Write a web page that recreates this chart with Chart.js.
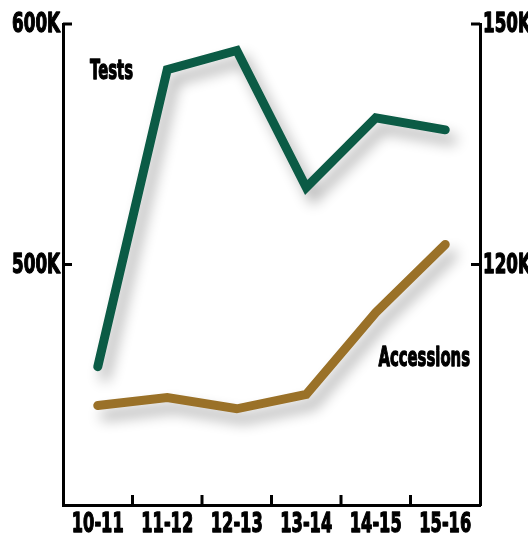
<!DOCTYPE html>
<html>
<head>
<meta charset="utf-8">
<script src="https://cdn.jsdelivr.net/npm/chart.js@4"></script>
<style>
  html, body { margin: 0; padding: 0; background: #fff; }
  #wrap { width: 528px; height: 536px; }
</style>
</head>
<body>
<div id="wrap"><canvas id="chart"></canvas></div>
<script>
const years = ['10-11', '11-12', '12-13', '13-14', '14-15', '15-16'];
const tests = [457500, 581000, 589000, 532000, 561000, 556000];
const accessions = [102400, 103400, 102000, 103800, 114000, 122500];
const leftTicks = [500000, 600000];
const rightTicks = [120000, 150000];

const FONT = 'bold 27px "DejaVu Sans", sans-serif';
const green = '#0b5b45';
const brown = '#9a7128';

const fmtK = v => (v / 1000) + 'K';

// narrow heavy text (squeezed horizontally, thickened with a stroke)
function squeezed(c, text, x, y, align, sx) {
  c.save();
  c.font = FONT;
  c.textBaseline = 'middle';
  c.textAlign = align;
  c.translate(x, y);
  c.scale(sx, 1);
  c.fillStyle = '#000';
  c.strokeStyle = '#000';
  c.lineWidth = 1.4;
  c.lineJoin = 'round';
  c.fillText(text, 0, 0);
  c.strokeText(text, 0, 0);
  c.restore();
}

// drop shadow under the lines
const shadowPlugin = {
  id: 'shadow',
  beforeDatasetsDraw(chart) {
    const c = chart.ctx;
    c.save();
    c.shadowColor = 'rgba(0,0,0,0.32)';
    c.shadowBlur = 14;
    c.shadowOffsetX = 7;
    c.shadowOffsetY = 10;
  },
  afterDatasetsDraw(chart) {
    chart.ctx.restore();
  }
};

// inward tick marks, tick labels, series labels
const decorPlugin = {
  id: 'decor',
  afterDraw(chart) {
    const c = chart.ctx;
    const { left, right, bottom } = chart.chartArea;
    const x = chart.scales.x, yl = chart.scales.yl, yr = chart.scales.yr;
    c.save();
    c.strokeStyle = '#000';
    c.lineWidth = 3;
    c.beginPath();
    leftTicks.forEach(v => {
      const p = yl.getPixelForValue(v);
      c.moveTo(left, p); c.lineTo(left + 9, p);
    });
    rightTicks.forEach(v => {
      const p = yr.getPixelForValue(v);
      c.moveTo(right, p); c.lineTo(right - 9, p);
    });
    for (let i = 1; i < years.length; i++) {
      const p = (x.getPixelForValue(i - 1) + x.getPixelForValue(i)) / 2;
      c.moveTo(p, bottom); c.lineTo(p, bottom - 10);
    }
    c.stroke();

    leftTicks.forEach(v => squeezed(c, fmtK(v), left - 3, yl.getPixelForValue(v) + 1, 'right', 0.62));
    rightTicks.forEach(v => squeezed(c, fmtK(v), right + 3, yr.getPixelForValue(v) + 1, 'left', 0.62));
    years.forEach((lab, i) => squeezed(c, lab, x.getPixelForValue(i), bottom + 20, 'center', 0.6));

    squeezed(c, 'Tests', left + 27, yl.getPixelForValue(580000), 'left', 0.55);
    squeezed(c, 'Accessions', right - 10, yr.getPixelForValue(108200), 'right', 0.55);
    c.restore();
  }
};

new Chart(document.getElementById('chart'), {
  type: 'line',
  data: {
    labels: years,
    datasets: [
      {
        label: 'Tests',
        data: tests,
        yAxisID: 'yl',
        borderColor: green,
        borderWidth: 9,
        borderCapStyle: 'round',
        borderJoinStyle: 'miter',
        pointRadius: 0,
        tension: 0
      },
      {
        label: 'Accessions',
        data: accessions,
        yAxisID: 'yr',
        borderColor: brown,
        borderWidth: 9,
        borderCapStyle: 'round',
        borderJoinStyle: 'miter',
        pointRadius: 0,
        tension: 0
      }
    ]
  },
  options: {
    responsive: true,
    maintainAspectRatio: false,
    animation: false,
    layout: { padding: { top: 24, bottom: 0 } },
    plugins: {
      legend: { display: false },
      tooltip: { enabled: false }
    },
    scales: {
      x: {
        offset: true,
        grid: { display: false, drawTicks: false },
        border: { display: true, color: '#000', width: 3 },
        ticks: { display: false },
        afterFit(s) { s.height = 31; }
      },
      yl: {
        position: 'left',
        min: 400000,
        max: 600000,
        grid: { display: false, drawTicks: false },
        border: { display: true, color: '#000', width: 3 },
        afterBuildTicks(s) { s.ticks = leftTicks.map(v => ({ value: v })); },
        ticks: { display: false },
        afterFit(s) { s.width = 63; }
      },
      yr: {
        position: 'right',
        min: 90000,
        max: 150000,
        grid: { display: false, drawTicks: false },
        border: { display: true, color: '#000', width: 3 },
        afterBuildTicks(s) { s.ticks = rightTicks.map(v => ({ value: v })); },
        ticks: { display: false },
        afterFit(s) { s.width = 48; }
      }
    }
  },
  plugins: [shadowPlugin, decorPlugin]
});
</script>
</body>
</html>
